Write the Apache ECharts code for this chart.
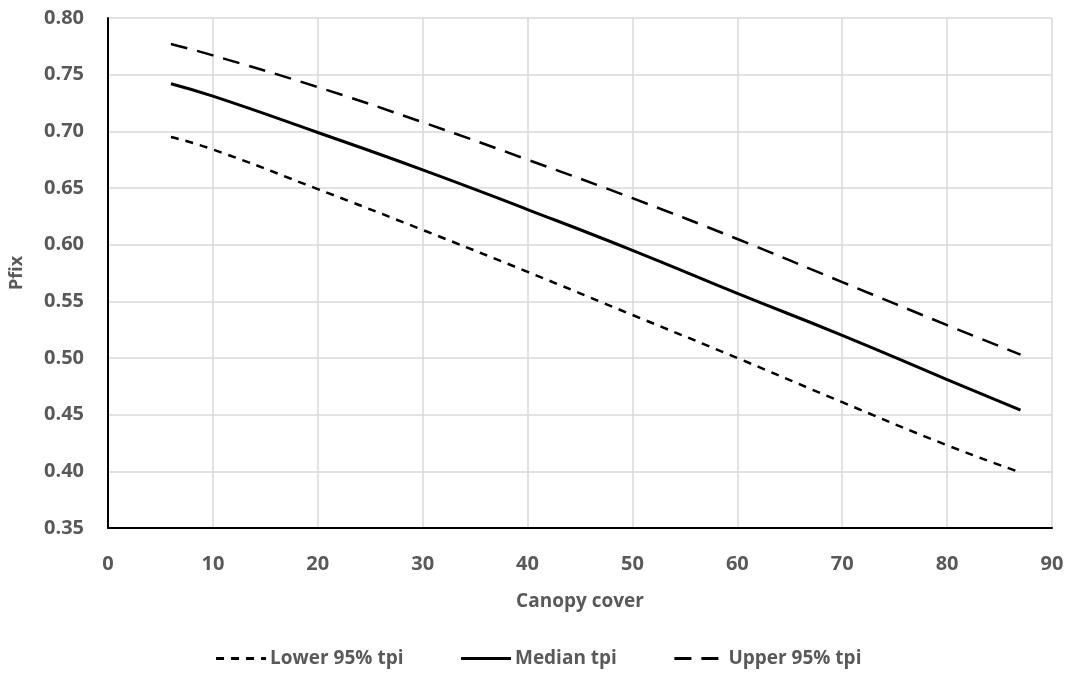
<!DOCTYPE html>
<html><head><meta charset="utf-8">
<script src="https://cdn.jsdelivr.net/npm/echarts@6/dist/echarts.min.js"></script>
<style>html,body{margin:0;padding:0;background:#fff}#c{width:1076px;height:675px}</style>
</head><body><div id="c"></div>
<script>
const canopy = [6, 10, 20, 30, 40, 50, 60, 70, 80, 87];
const lower95 = [0.695, 0.684, 0.649, 0.613, 0.576, 0.538, 0.500, 0.461, 0.423, 0.399];
const median = [0.742, 0.731, 0.699, 0.666, 0.631, 0.595, 0.557, 0.520, 0.481, 0.454];
const upper95 = [0.777, 0.767, 0.739, 0.708, 0.675, 0.641, 0.605, 0.567, 0.529, 0.503];
const seriesNames = ['Lower 95% tpi', 'Median tpi', 'Upper 95% tpi'];

const pair = arr => canopy.map((x, i) => [x, arr[i]]);
const font = '"Open Sans", "Liberation Sans", sans-serif';
const chart = echarts.init(document.getElementById('c'));
chart.setOption({
  animation: false,
  grid: {left: 107, right: 24, top: 18, bottom: 147},
  xAxis: {
    type: 'value', min: 0, max: 90, interval: 10,
    name: 'Canopy cover', nameLocation: 'middle', nameGap: 64,
    nameTextStyle: {color: '#595959', fontSize: 19, fontWeight: 'bold', fontFamily: font},
    axisLine: {lineStyle: {color: '#000', width: 2}},
    axisTick: {show: false},
    axisLabel: {color: '#595959', fontSize: 20, fontWeight: 'bold', fontFamily: font, margin: 26},
    splitLine: {show: true, lineStyle: {color: '#d9d9d9', width: 1.5}}
  },
  yAxis: {
    type: 'value', min: 0.35, max: 0.80, interval: 0.05,
    name: 'Pfix', nameLocation: 'middle', nameGap: 82, nameRotate: 90,
    nameTextStyle: {color: '#595959', fontSize: 18, fontWeight: 'bold', fontFamily: font},
    axisLine: {show: true, lineStyle: {color: '#000', width: 2}},
    axisTick: {show: false},
    axisLabel: {color: '#595959', fontSize: 20, fontWeight: 'bold', fontFamily: font, margin: 24,
      formatter: v => v.toFixed(2)},
    splitLine: {show: true, lineStyle: {color: '#d9d9d9', width: 1.5}}
  },
  legend: {
    bottom: 2, left: 'center', itemWidth: 50, itemHeight: 10, itemGap: 56,
    textStyle: {color: '#595959', fontSize: 19, fontWeight: 'bold', fontFamily: font, padding: [0, 0, 0, -1]},
    itemStyle: {opacity: 0},
    lineStyle: {width: 3},
    data: seriesNames
  },
  series: [
    {name: seriesNames[0], type: 'line', data: pair(lower95), symbol: 'none', smooth: true,
      lineStyle: {color: '#000', width: 2.5, type: [8, 7]}, itemStyle: {color: '#000'}},
    {name: seriesNames[1], type: 'line', data: pair(median), symbol: 'none', smooth: true,
      lineStyle: {color: '#000', width: 3}, itemStyle: {color: '#000'}},
    {name: seriesNames[2], type: 'line', data: pair(upper95), symbol: 'none', smooth: true,
      lineStyle: {color: '#000', width: 2.5, type: [17, 10]}, itemStyle: {color: '#000'}}
  ]
});
</script></body></html>
